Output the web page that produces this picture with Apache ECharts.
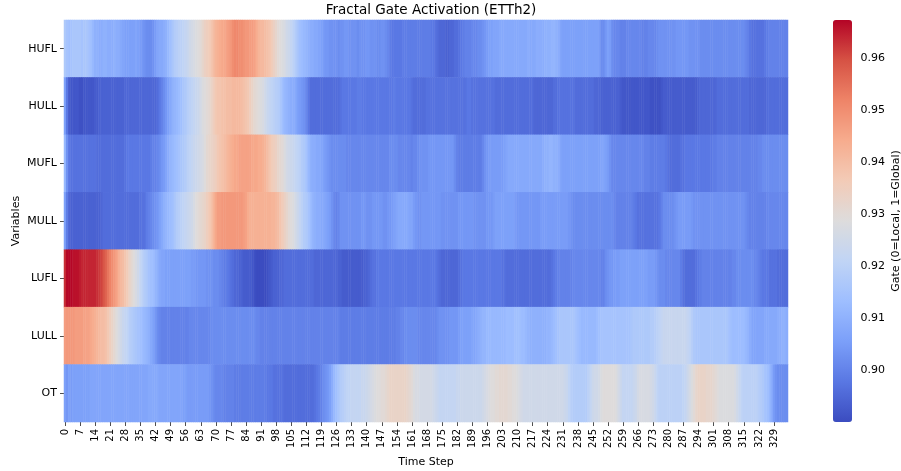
<!DOCTYPE html>
<html>
<head>
<meta charset="utf-8">
<script src="https://cdn.jsdelivr.net/npm/echarts@6/dist/echarts.min.js"></script>
<style>
  html, body { margin: 0; padding: 0; background: #fff; }
  #chart { width: 901px; height: 471px; }
</style>
</head>
<body>
<div id="chart"></div>
<script>
// 变量名 (从上到下)
const variables = ['HUFL', 'HULL', 'MUFL', 'MULL', 'LUFL', 'LULL', 'OT'];
// 时间步 0..335
const timeSteps = [];
for (let i = 0; i < 336; i++) timeSteps.push(String(i));
// 颜色条刻度
const colorbarTicks = [0.90, 0.91, 0.92, 0.93, 0.94, 0.95, 0.96];
const gateMin = 0.8901;
const gateMax = 0.9673;

const hufl = [
  0.917, 0.915, 0.914, 0.915, 0.916, 0.916, 0.916, 0.916, 0.915, 0.916, 0.916, 0.915,
  0.914, 0.912, 0.910, 0.910, 0.909, 0.909, 0.910, 0.910, 0.909, 0.909, 0.909, 0.910,
  0.909, 0.909, 0.908, 0.907, 0.906, 0.906, 0.906, 0.906, 0.906, 0.907, 0.906, 0.905,
  0.904, 0.903, 0.902, 0.902, 0.902, 0.903, 0.905, 0.907, 0.908, 0.908, 0.909, 0.910,
  0.912, 0.914, 0.916, 0.918, 0.919, 0.920, 0.920, 0.921, 0.922, 0.923, 0.925, 0.926,
  0.927, 0.928, 0.929, 0.930, 0.932, 0.934, 0.935, 0.936, 0.938, 0.940, 0.942, 0.943,
  0.944, 0.945, 0.945, 0.946, 0.947, 0.948, 0.950, 0.951, 0.951, 0.950, 0.950, 0.949,
  0.948, 0.948, 0.947, 0.947, 0.946, 0.944, 0.942, 0.941, 0.941, 0.940, 0.939, 0.938,
  0.936, 0.934, 0.932, 0.930, 0.929, 0.928, 0.927, 0.925, 0.924, 0.922, 0.920, 0.918,
  0.916, 0.914, 0.913, 0.912, 0.911, 0.910, 0.909, 0.909, 0.908, 0.908, 0.907, 0.906,
  0.905, 0.904, 0.904, 0.903, 0.903, 0.903, 0.903, 0.902, 0.903, 0.903, 0.904, 0.904,
  0.903, 0.903, 0.903, 0.903, 0.902, 0.903, 0.903, 0.903, 0.904, 0.904, 0.903, 0.903,
  0.903, 0.902, 0.902, 0.903, 0.903, 0.902, 0.901, 0.899, 0.898, 0.898, 0.898, 0.898,
  0.898, 0.899, 0.899, 0.899, 0.899, 0.899, 0.899, 0.899, 0.899, 0.899, 0.899, 0.899,
  0.899, 0.899, 0.898, 0.898, 0.897, 0.896, 0.895, 0.895, 0.895, 0.894, 0.894, 0.895,
  0.895, 0.896, 0.896, 0.897, 0.898, 0.899, 0.900, 0.900, 0.900, 0.901, 0.901, 0.901,
  0.902, 0.902, 0.903, 0.904, 0.905, 0.906, 0.906, 0.907, 0.907, 0.907, 0.908, 0.908,
  0.908, 0.908, 0.908, 0.908, 0.908, 0.908, 0.908, 0.908, 0.908, 0.908, 0.908, 0.909,
  0.908, 0.908, 0.908, 0.909, 0.909, 0.909, 0.909, 0.910, 0.910, 0.910, 0.911, 0.911,
  0.910, 0.909, 0.907, 0.906, 0.906, 0.906, 0.906, 0.906, 0.906, 0.906, 0.906, 0.906,
  0.906, 0.906, 0.906, 0.906, 0.906, 0.906, 0.906, 0.906, 0.905, 0.902, 0.902, 0.904,
  0.906, 0.905, 0.902, 0.901, 0.901, 0.901, 0.900, 0.900, 0.900, 0.901, 0.901, 0.901,
  0.901, 0.901, 0.901, 0.901, 0.900, 0.900, 0.900, 0.901, 0.901, 0.901, 0.901, 0.902,
  0.903, 0.903, 0.903, 0.903, 0.903, 0.903, 0.903, 0.903, 0.904, 0.904, 0.904, 0.904,
  0.904, 0.904, 0.903, 0.903, 0.903, 0.903, 0.903, 0.902, 0.902, 0.902, 0.902, 0.902,
  0.902, 0.902, 0.902, 0.902, 0.902, 0.902, 0.902, 0.902, 0.902, 0.902, 0.902, 0.902,
  0.902, 0.902, 0.902, 0.902, 0.901, 0.900, 0.898, 0.897, 0.897, 0.897, 0.897, 0.897,
  0.897, 0.898, 0.899, 0.900, 0.900, 0.900, 0.900, 0.900, 0.900, 0.900, 0.900, 0.900
];

const hull = [
  0.906, 0.898, 0.893, 0.892, 0.892, 0.892, 0.892, 0.891, 0.891, 0.892, 0.892, 0.892,
  0.892, 0.892, 0.893, 0.893, 0.894, 0.894, 0.894, 0.894, 0.894, 0.894, 0.894, 0.894,
  0.894, 0.894, 0.894, 0.894, 0.895, 0.895, 0.895, 0.895, 0.895, 0.895, 0.895, 0.895,
  0.895, 0.895, 0.895, 0.895, 0.895, 0.895, 0.895, 0.896, 0.898, 0.900, 0.902, 0.904,
  0.906, 0.908, 0.910, 0.911, 0.912, 0.913, 0.914, 0.916, 0.917, 0.919, 0.920, 0.921,
  0.922, 0.923, 0.924, 0.926, 0.928, 0.929, 0.930, 0.931, 0.933, 0.935, 0.937, 0.938,
  0.938, 0.939, 0.939, 0.940, 0.940, 0.940, 0.941, 0.941, 0.941, 0.941, 0.940, 0.939,
  0.938, 0.937, 0.935, 0.933, 0.931, 0.930, 0.929, 0.928, 0.927, 0.925, 0.923, 0.922,
  0.921, 0.920, 0.919, 0.918, 0.916, 0.914, 0.912, 0.911, 0.910, 0.909, 0.909, 0.908,
  0.906, 0.905, 0.904, 0.903, 0.901, 0.898, 0.896, 0.896, 0.896, 0.896, 0.896, 0.896,
  0.896, 0.896, 0.896, 0.896, 0.896, 0.896, 0.896, 0.896, 0.897, 0.898, 0.898, 0.898,
  0.898, 0.898, 0.898, 0.898, 0.899, 0.899, 0.898, 0.898, 0.898, 0.898, 0.898, 0.898,
  0.898, 0.898, 0.898, 0.898, 0.898, 0.898, 0.898, 0.898, 0.898, 0.899, 0.898, 0.898,
  0.898, 0.898, 0.898, 0.898, 0.898, 0.897, 0.896, 0.896, 0.896, 0.896, 0.896, 0.896,
  0.897, 0.897, 0.897, 0.897, 0.897, 0.897, 0.897, 0.897, 0.897, 0.897, 0.897, 0.897,
  0.897, 0.897, 0.897, 0.897, 0.897, 0.897, 0.897, 0.898, 0.898, 0.897, 0.897, 0.897,
  0.897, 0.897, 0.897, 0.897, 0.897, 0.897, 0.897, 0.897, 0.896, 0.896, 0.896, 0.896,
  0.896, 0.896, 0.896, 0.896, 0.896, 0.896, 0.896, 0.896, 0.896, 0.896, 0.896, 0.896,
  0.896, 0.896, 0.895, 0.895, 0.895, 0.895, 0.895, 0.895, 0.895, 0.895, 0.895, 0.896,
  0.896, 0.897, 0.897, 0.897, 0.897, 0.897, 0.897, 0.897, 0.897, 0.896, 0.896, 0.896,
  0.896, 0.896, 0.896, 0.896, 0.896, 0.896, 0.895, 0.895, 0.895, 0.894, 0.894, 0.894,
  0.894, 0.894, 0.894, 0.894, 0.894, 0.894, 0.893, 0.892, 0.892, 0.892, 0.892, 0.892,
  0.892, 0.892, 0.892, 0.892, 0.892, 0.892, 0.892, 0.892, 0.891, 0.891, 0.891, 0.891,
  0.891, 0.892, 0.893, 0.893, 0.893, 0.893, 0.893, 0.893, 0.893, 0.893, 0.893, 0.893,
  0.893, 0.893, 0.893, 0.893, 0.893, 0.893, 0.894, 0.895, 0.895, 0.895, 0.895, 0.895,
  0.895, 0.895, 0.895, 0.896, 0.896, 0.896, 0.896, 0.896, 0.896, 0.896, 0.896, 0.896,
  0.896, 0.896, 0.896, 0.896, 0.896, 0.896, 0.895, 0.895, 0.895, 0.895, 0.895, 0.895,
  0.895, 0.895, 0.896, 0.896, 0.896, 0.896, 0.896, 0.896, 0.896, 0.896, 0.896, 0.896
];

const mufl = [
  0.912, 0.903, 0.898, 0.897, 0.897, 0.897, 0.897, 0.897, 0.897, 0.897, 0.897, 0.897,
  0.897, 0.897, 0.897, 0.896, 0.896, 0.896, 0.896, 0.896, 0.896, 0.896, 0.896, 0.896,
  0.896, 0.896, 0.896, 0.896, 0.897, 0.898, 0.898, 0.898, 0.898, 0.898, 0.898, 0.898,
  0.898, 0.898, 0.898, 0.898, 0.899, 0.900, 0.900, 0.901, 0.902, 0.904, 0.905, 0.907,
  0.909, 0.911, 0.912, 0.913, 0.914, 0.915, 0.916, 0.917, 0.918, 0.920, 0.921, 0.922,
  0.923, 0.924, 0.925, 0.926, 0.927, 0.929, 0.931, 0.932, 0.933, 0.934, 0.935, 0.937,
  0.938, 0.939, 0.940, 0.941, 0.942, 0.943, 0.944, 0.945, 0.945, 0.946, 0.946, 0.946,
  0.946, 0.946, 0.946, 0.945, 0.945, 0.945, 0.944, 0.944, 0.943, 0.942, 0.940, 0.938,
  0.936, 0.935, 0.934, 0.932, 0.931, 0.930, 0.928, 0.926, 0.925, 0.924, 0.923, 0.922,
  0.921, 0.920, 0.918, 0.917, 0.915, 0.912, 0.910, 0.909, 0.909, 0.908, 0.908, 0.907,
  0.906, 0.905, 0.904, 0.903, 0.902, 0.902, 0.902, 0.902, 0.902, 0.902, 0.902, 0.901,
  0.901, 0.901, 0.901, 0.901, 0.901, 0.901, 0.901, 0.901, 0.901, 0.901, 0.901, 0.901,
  0.901, 0.901, 0.901, 0.901, 0.901, 0.901, 0.901, 0.902, 0.902, 0.902, 0.902, 0.901,
  0.901, 0.901, 0.901, 0.901, 0.901, 0.900, 0.901, 0.901, 0.902, 0.903, 0.903, 0.903,
  0.903, 0.904, 0.904, 0.904, 0.904, 0.904, 0.904, 0.904, 0.904, 0.904, 0.904, 0.904,
  0.904, 0.902, 0.900, 0.899, 0.899, 0.899, 0.899, 0.899, 0.899, 0.899, 0.899, 0.899,
  0.899, 0.899, 0.901, 0.903, 0.904, 0.905, 0.905, 0.905, 0.905, 0.905, 0.905, 0.905,
  0.906, 0.907, 0.908, 0.908, 0.908, 0.908, 0.908, 0.908, 0.908, 0.908, 0.908, 0.908,
  0.908, 0.908, 0.908, 0.908, 0.908, 0.908, 0.909, 0.910, 0.910, 0.911, 0.911, 0.910,
  0.910, 0.909, 0.907, 0.906, 0.906, 0.906, 0.906, 0.906, 0.906, 0.906, 0.906, 0.906,
  0.906, 0.906, 0.906, 0.906, 0.906, 0.906, 0.906, 0.906, 0.906, 0.907, 0.907, 0.906,
  0.905, 0.903, 0.901, 0.901, 0.901, 0.901, 0.901, 0.901, 0.901, 0.901, 0.901, 0.901,
  0.901, 0.901, 0.901, 0.901, 0.901, 0.900, 0.900, 0.900, 0.899, 0.899, 0.899, 0.899,
  0.899, 0.899, 0.899, 0.898, 0.897, 0.896, 0.896, 0.896, 0.896, 0.896, 0.897, 0.897,
  0.898, 0.898, 0.898, 0.898, 0.898, 0.898, 0.898, 0.898, 0.898, 0.898, 0.898, 0.898,
  0.898, 0.899, 0.899, 0.900, 0.900, 0.900, 0.900, 0.900, 0.900, 0.900, 0.900, 0.900,
  0.900, 0.900, 0.900, 0.900, 0.900, 0.900, 0.900, 0.900, 0.900, 0.900, 0.901, 0.901,
  0.902, 0.902, 0.902, 0.902, 0.902, 0.902, 0.902, 0.902, 0.902, 0.902, 0.902, 0.902
];

const mull = [
  0.906, 0.899, 0.895, 0.894, 0.894, 0.894, 0.894, 0.894, 0.894, 0.894, 0.894, 0.894,
  0.894, 0.894, 0.894, 0.894, 0.894, 0.895, 0.896, 0.896, 0.896, 0.896, 0.896, 0.896,
  0.896, 0.896, 0.896, 0.896, 0.896, 0.896, 0.896, 0.896, 0.896, 0.896, 0.896, 0.897,
  0.897, 0.897, 0.899, 0.900, 0.901, 0.902, 0.903, 0.904, 0.906, 0.908, 0.910, 0.911,
  0.912, 0.913, 0.914, 0.916, 0.918, 0.919, 0.920, 0.921, 0.922, 0.923, 0.924, 0.925,
  0.927, 0.929, 0.930, 0.931, 0.932, 0.933, 0.935, 0.937, 0.939, 0.942, 0.945, 0.947,
  0.947, 0.948, 0.948, 0.948, 0.948, 0.948, 0.948, 0.948, 0.948, 0.948, 0.948, 0.947,
  0.946, 0.944, 0.943, 0.943, 0.943, 0.943, 0.943, 0.943, 0.943, 0.943, 0.943, 0.943,
  0.942, 0.942, 0.941, 0.940, 0.938, 0.936, 0.934, 0.932, 0.930, 0.929, 0.928, 0.926,
  0.924, 0.922, 0.920, 0.918, 0.917, 0.915, 0.913, 0.911, 0.910, 0.909, 0.909, 0.908,
  0.908, 0.907, 0.906, 0.905, 0.903, 0.901, 0.900, 0.901, 0.903, 0.903, 0.903, 0.903,
  0.903, 0.903, 0.903, 0.903, 0.903, 0.903, 0.904, 0.904, 0.903, 0.903, 0.903, 0.904,
  0.904, 0.904, 0.904, 0.904, 0.903, 0.903, 0.904, 0.904, 0.905, 0.906, 0.907, 0.908,
  0.908, 0.908, 0.908, 0.908, 0.907, 0.907, 0.905, 0.904, 0.903, 0.903, 0.904, 0.904,
  0.904, 0.904, 0.904, 0.904, 0.904, 0.904, 0.904, 0.903, 0.903, 0.903, 0.903, 0.903,
  0.903, 0.903, 0.903, 0.904, 0.904, 0.904, 0.904, 0.904, 0.904, 0.904, 0.903, 0.903,
  0.903, 0.903, 0.903, 0.903, 0.904, 0.904, 0.904, 0.905, 0.906, 0.906, 0.906, 0.906,
  0.906, 0.906, 0.906, 0.906, 0.906, 0.905, 0.904, 0.904, 0.904, 0.904, 0.904, 0.904,
  0.904, 0.904, 0.904, 0.904, 0.904, 0.905, 0.905, 0.905, 0.905, 0.905, 0.905, 0.905,
  0.905, 0.905, 0.905, 0.905, 0.905, 0.905, 0.904, 0.903, 0.902, 0.902, 0.902, 0.902,
  0.902, 0.902, 0.902, 0.902, 0.902, 0.902, 0.902, 0.902, 0.902, 0.902, 0.902, 0.902,
  0.902, 0.902, 0.902, 0.901, 0.900, 0.900, 0.900, 0.900, 0.900, 0.900, 0.900, 0.900,
  0.899, 0.898, 0.897, 0.897, 0.897, 0.897, 0.897, 0.897, 0.897, 0.897, 0.897, 0.897,
  0.898, 0.900, 0.902, 0.902, 0.902, 0.902, 0.902, 0.903, 0.904, 0.905, 0.905, 0.905,
  0.905, 0.905, 0.905, 0.904, 0.903, 0.903, 0.903, 0.903, 0.903, 0.903, 0.903, 0.903,
  0.903, 0.903, 0.903, 0.903, 0.903, 0.903, 0.903, 0.903, 0.903, 0.903, 0.903, 0.903,
  0.903, 0.903, 0.903, 0.903, 0.902, 0.901, 0.900, 0.900, 0.900, 0.900, 0.900, 0.900,
  0.900, 0.900, 0.901, 0.901, 0.901, 0.901, 0.901, 0.901, 0.901, 0.901, 0.901, 0.901
];

const lufl = [
  0.963, 0.967, 0.967, 0.967, 0.966, 0.966, 0.966, 0.965, 0.964, 0.964, 0.964, 0.964,
  0.964, 0.964, 0.964, 0.963, 0.962, 0.961, 0.959, 0.957, 0.954, 0.952, 0.950, 0.948,
  0.946, 0.943, 0.941, 0.940, 0.938, 0.936, 0.933, 0.931, 0.929, 0.927, 0.925, 0.922,
  0.920, 0.918, 0.917, 0.915, 0.914, 0.913, 0.911, 0.910, 0.908, 0.907, 0.907, 0.906,
  0.906, 0.906, 0.906, 0.906, 0.906, 0.906, 0.906, 0.906, 0.906, 0.906, 0.906, 0.905,
  0.905, 0.904, 0.904, 0.904, 0.904, 0.904, 0.903, 0.903, 0.903, 0.902, 0.902, 0.902,
  0.901, 0.900, 0.899, 0.899, 0.898, 0.897, 0.896, 0.895, 0.895, 0.894, 0.894, 0.893,
  0.893, 0.893, 0.893, 0.892, 0.891, 0.890, 0.890, 0.890, 0.890, 0.890, 0.891, 0.892,
  0.893, 0.894, 0.894, 0.894, 0.895, 0.895, 0.896, 0.896, 0.896, 0.896, 0.896, 0.896,
  0.896, 0.896, 0.896, 0.896, 0.896, 0.896, 0.896, 0.896, 0.895, 0.895, 0.895, 0.895,
  0.895, 0.895, 0.895, 0.895, 0.895, 0.895, 0.895, 0.894, 0.894, 0.893, 0.893, 0.893,
  0.893, 0.893, 0.893, 0.893, 0.893, 0.893, 0.893, 0.894, 0.894, 0.895, 0.896, 0.897,
  0.897, 0.898, 0.898, 0.898, 0.898, 0.898, 0.898, 0.898, 0.898, 0.898, 0.898, 0.898,
  0.898, 0.898, 0.898, 0.898, 0.898, 0.898, 0.898, 0.898, 0.898, 0.898, 0.898, 0.898,
  0.898, 0.898, 0.898, 0.898, 0.898, 0.897, 0.896, 0.895, 0.895, 0.895, 0.895, 0.895,
  0.895, 0.895, 0.895, 0.896, 0.897, 0.898, 0.898, 0.898, 0.898, 0.898, 0.898, 0.898,
  0.898, 0.898, 0.898, 0.898, 0.898, 0.898, 0.898, 0.898, 0.898, 0.898, 0.898, 0.897,
  0.897, 0.896, 0.896, 0.896, 0.896, 0.896, 0.896, 0.896, 0.896, 0.896, 0.896, 0.896,
  0.896, 0.896, 0.896, 0.896, 0.896, 0.896, 0.896, 0.896, 0.896, 0.896, 0.897, 0.898,
  0.899, 0.900, 0.900, 0.900, 0.900, 0.900, 0.900, 0.900, 0.901, 0.901, 0.901, 0.901,
  0.901, 0.901, 0.901, 0.901, 0.901, 0.901, 0.901, 0.901, 0.901, 0.900, 0.900, 0.902,
  0.903, 0.904, 0.904, 0.905, 0.905, 0.905, 0.906, 0.906, 0.906, 0.906, 0.906, 0.906,
  0.906, 0.906, 0.906, 0.906, 0.906, 0.906, 0.906, 0.905, 0.905, 0.905, 0.904, 0.903,
  0.902, 0.902, 0.902, 0.901, 0.901, 0.901, 0.901, 0.901, 0.901, 0.901, 0.899, 0.897,
  0.896, 0.896, 0.896, 0.896, 0.896, 0.897, 0.898, 0.899, 0.900, 0.900, 0.900, 0.900,
  0.900, 0.900, 0.900, 0.900, 0.900, 0.900, 0.900, 0.900, 0.900, 0.900, 0.901, 0.901,
  0.902, 0.902, 0.902, 0.902, 0.902, 0.902, 0.902, 0.902, 0.901, 0.901, 0.900, 0.899,
  0.898, 0.898, 0.898, 0.897, 0.897, 0.897, 0.897, 0.896, 0.896, 0.896, 0.896, 0.896
];

const lull = [
  0.947, 0.948, 0.948, 0.948, 0.948, 0.947, 0.947, 0.947, 0.947, 0.946, 0.946, 0.946,
  0.945, 0.944, 0.943, 0.942, 0.941, 0.940, 0.940, 0.939, 0.937, 0.935, 0.933, 0.931,
  0.929, 0.927, 0.925, 0.923, 0.922, 0.921, 0.919, 0.918, 0.917, 0.916, 0.915, 0.914,
  0.913, 0.912, 0.911, 0.910, 0.908, 0.906, 0.904, 0.902, 0.901, 0.900, 0.900, 0.900,
  0.900, 0.900, 0.900, 0.900, 0.900, 0.900, 0.900, 0.900, 0.900, 0.900, 0.901, 0.901,
  0.901, 0.901, 0.901, 0.901, 0.901, 0.901, 0.901, 0.901, 0.902, 0.902, 0.902, 0.902,
  0.902, 0.902, 0.902, 0.902, 0.902, 0.902, 0.902, 0.902, 0.902, 0.902, 0.902, 0.902,
  0.902, 0.902, 0.902, 0.902, 0.902, 0.901, 0.901, 0.900, 0.900, 0.900, 0.900, 0.900,
  0.900, 0.900, 0.900, 0.900, 0.900, 0.900, 0.900, 0.900, 0.900, 0.900, 0.900, 0.900,
  0.900, 0.900, 0.900, 0.900, 0.900, 0.900, 0.900, 0.900, 0.900, 0.900, 0.900, 0.900,
  0.900, 0.900, 0.900, 0.900, 0.900, 0.900, 0.900, 0.900, 0.899, 0.899, 0.899, 0.899,
  0.899, 0.899, 0.899, 0.899, 0.899, 0.899, 0.899, 0.899, 0.899, 0.899, 0.899, 0.899,
  0.899, 0.899, 0.899, 0.899, 0.899, 0.899, 0.899, 0.899, 0.899, 0.899, 0.900, 0.900,
  0.901, 0.901, 0.902, 0.902, 0.902, 0.902, 0.902, 0.902, 0.901, 0.901, 0.901, 0.901,
  0.901, 0.901, 0.901, 0.901, 0.901, 0.902, 0.903, 0.903, 0.903, 0.903, 0.903, 0.904,
  0.904, 0.904, 0.904, 0.905, 0.906, 0.906, 0.906, 0.906, 0.906, 0.907, 0.907, 0.908,
  0.909, 0.910, 0.911, 0.911, 0.912, 0.912, 0.912, 0.912, 0.912, 0.912, 0.912, 0.912,
  0.912, 0.913, 0.913, 0.913, 0.913, 0.914, 0.914, 0.914, 0.913, 0.913, 0.912, 0.911,
  0.910, 0.910, 0.910, 0.910, 0.910, 0.910, 0.910, 0.910, 0.911, 0.911, 0.912, 0.913,
  0.914, 0.915, 0.916, 0.916, 0.916, 0.916, 0.916, 0.916, 0.916, 0.915, 0.914, 0.913,
  0.912, 0.912, 0.912, 0.912, 0.912, 0.912, 0.912, 0.913, 0.914, 0.915, 0.915, 0.915,
  0.915, 0.915, 0.915, 0.915, 0.915, 0.915, 0.915, 0.915, 0.915, 0.915, 0.915, 0.916,
  0.917, 0.917, 0.917, 0.917, 0.917, 0.917, 0.917, 0.917, 0.918, 0.918, 0.919, 0.920,
  0.921, 0.922, 0.923, 0.923, 0.923, 0.923, 0.923, 0.923, 0.923, 0.923, 0.923, 0.923,
  0.923, 0.922, 0.921, 0.919, 0.917, 0.916, 0.916, 0.916, 0.916, 0.916, 0.916, 0.916,
  0.916, 0.916, 0.916, 0.916, 0.916, 0.916, 0.916, 0.916, 0.915, 0.914, 0.913, 0.913,
  0.913, 0.913, 0.913, 0.913, 0.912, 0.911, 0.909, 0.907, 0.907, 0.907, 0.907, 0.907,
  0.907, 0.908, 0.908, 0.908, 0.908, 0.908, 0.908, 0.909, 0.909, 0.910, 0.910, 0.909
];

const ot = [
  0.906, 0.904, 0.906, 0.905, 0.906, 0.906, 0.906, 0.906, 0.906, 0.906, 0.906, 0.906,
  0.907, 0.907, 0.907, 0.907, 0.907, 0.907, 0.907, 0.907, 0.907, 0.907, 0.907, 0.907,
  0.907, 0.907, 0.907, 0.907, 0.907, 0.907, 0.907, 0.907, 0.907, 0.907, 0.907, 0.907,
  0.907, 0.907, 0.907, 0.908, 0.908, 0.908, 0.908, 0.908, 0.907, 0.907, 0.907, 0.907,
  0.907, 0.907, 0.907, 0.907, 0.907, 0.907, 0.907, 0.906, 0.906, 0.905, 0.905, 0.905,
  0.905, 0.905, 0.905, 0.905, 0.905, 0.905, 0.905, 0.904, 0.903, 0.902, 0.901, 0.901,
  0.901, 0.901, 0.900, 0.900, 0.900, 0.900, 0.900, 0.899, 0.899, 0.899, 0.899, 0.899,
  0.899, 0.899, 0.899, 0.899, 0.899, 0.899, 0.899, 0.899, 0.899, 0.899, 0.898, 0.898,
  0.898, 0.897, 0.897, 0.897, 0.897, 0.897, 0.896, 0.896, 0.896, 0.896, 0.896, 0.896,
  0.896, 0.896, 0.896, 0.896, 0.896, 0.896, 0.896, 0.896, 0.897, 0.898, 0.899, 0.900,
  0.902, 0.903, 0.904, 0.906, 0.909, 0.912, 0.914, 0.916, 0.918, 0.919, 0.920, 0.921,
  0.921, 0.922, 0.922, 0.922, 0.922, 0.922, 0.923, 0.923, 0.924, 0.925, 0.926, 0.927,
  0.928, 0.929, 0.929, 0.930, 0.930, 0.931, 0.932, 0.933, 0.933, 0.933, 0.933, 0.933,
  0.933, 0.933, 0.933, 0.932, 0.931, 0.930, 0.928, 0.927, 0.927, 0.926, 0.926, 0.926,
  0.926, 0.926, 0.926, 0.925, 0.924, 0.923, 0.922, 0.922, 0.922, 0.922, 0.922, 0.922,
  0.922, 0.922, 0.923, 0.923, 0.924, 0.924, 0.924, 0.924, 0.924, 0.924, 0.924, 0.924,
  0.924, 0.924, 0.925, 0.926, 0.927, 0.928, 0.929, 0.929, 0.930, 0.930, 0.931, 0.931,
  0.931, 0.931, 0.930, 0.930, 0.929, 0.929, 0.928, 0.927, 0.926, 0.925, 0.925, 0.925,
  0.925, 0.925, 0.925, 0.925, 0.925, 0.925, 0.925, 0.925, 0.925, 0.925, 0.925, 0.925,
  0.925, 0.925, 0.925, 0.925, 0.924, 0.923, 0.921, 0.919, 0.918, 0.918, 0.918, 0.918,
  0.918, 0.918, 0.918, 0.920, 0.922, 0.924, 0.925, 0.925, 0.926, 0.928, 0.929, 0.929,
  0.929, 0.929, 0.929, 0.929, 0.928, 0.926, 0.924, 0.922, 0.922, 0.922, 0.922, 0.922,
  0.923, 0.924, 0.926, 0.927, 0.927, 0.927, 0.927, 0.927, 0.926, 0.925, 0.923, 0.921,
  0.920, 0.920, 0.920, 0.920, 0.920, 0.920, 0.920, 0.920, 0.920, 0.920, 0.920, 0.921,
  0.922, 0.924, 0.926, 0.928, 0.930, 0.932, 0.933, 0.933, 0.933, 0.933, 0.932, 0.932,
  0.932, 0.931, 0.930, 0.929, 0.928, 0.928, 0.928, 0.928, 0.928, 0.928, 0.928, 0.927,
  0.925, 0.923, 0.921, 0.920, 0.920, 0.920, 0.920, 0.920, 0.920, 0.920, 0.919, 0.918,
  0.917, 0.915, 0.914, 0.912, 0.909, 0.905, 0.903, 0.902, 0.902, 0.902, 0.902, 0.902
];

const rows = [hufl, hull, mufl, mull, lufl, lull, ot];

// coolwarm
const coolwarm = ['#3b4cc0', '#5977e3', '#7b9ff9', '#9ebeff', '#c0d4f5', '#dddcdc',
                  '#f2cbb7', '#f7ac8e', '#ee8468', '#d65244', '#b40426'];

let heatData = [];
rows.forEach((row, y) => {
    row.forEach((v, x) => {
        heatData.push([x, y, v]);
    });
});

const font = 'DejaVu Sans';
const chart = echarts.init(document.getElementById('chart'));
const option = {
    animation: false,
    backgroundColor: '#fff',
    title: {
        text: 'Fractal Gate Activation (ETTh2)',
        left: 426,
        top: -2,
        textAlign: 'center',
        textStyle: { fontFamily: font, fontSize: 13.5, fontWeight: 'normal', color: '#000' }
    },
    grid: [
        { left: 64, top: 20, width: 724, height: 402, outerBoundsMode: 'none' },
        { left: 833, top: 20, width: 19, height: 402, outerBoundsMode: 'none' }
    ],
    xAxis: [
        {
            type: 'category',
            gridIndex: 0,
            data: timeSteps,
            name: 'Time Step',
            nameLocation: 'middle',
            nameGap: 35,
            nameTextStyle: { fontFamily: font, fontSize: 11, color: '#000' },
            axisLine: { show: false },
            splitLine: { show: false },
            axisTick: { show: true, alignWithLabel: true, interval: 6, length: 4, lineStyle: { color: '#222', width: 0.8 } },
            axisLabel: { interval: 6, rotate: 90, fontFamily: font, fontSize: 10, color: '#000', margin: 7 }
        },
        { type: 'value', gridIndex: 1, show: false, min: 0, max: 1 }
    ],
    yAxis: [
        {
            type: 'category',
            gridIndex: 0,
            data: variables,
            inverse: true,
            name: 'Variables',
            nameLocation: 'middle',
            nameGap: 42,
            nameMoveOverlap: false,
            nameTextStyle: { fontFamily: font, fontSize: 11, color: '#000' },
            axisLine: { show: false },
            splitLine: { show: false },
            axisTick: { show: true, alignWithLabel: true, length: 4, lineStyle: { color: '#222', width: 0.8 } },
            axisLabel: { fontFamily: font, fontSize: 11, color: '#000', margin: 7 }
        },
        {
            type: 'value',
            gridIndex: 1,
            position: 'right',
            min: gateMin,
            max: gateMax,
            name: 'Gate (0=Local, 1=Global)',
            nameLocation: 'middle',
            nameRotate: 90,
            nameGap: 39,
            nameTextStyle: { fontFamily: font, fontSize: 11, color: '#000' },
            axisLine: { show: false },
            splitLine: { show: false },
            axisTick: { show: true, length: 4, customValues: colorbarTicks, lineStyle: { color: '#222', width: 0.8 } },
            axisLabel: {
                fontFamily: font, fontSize: 11, color: '#000', margin: 8.5,
                customValues: colorbarTicks,
                formatter: v => v.toFixed(2)
            }
        }
    ],
    visualMap: {
        type: 'continuous',
        min: gateMin,
        max: gateMax,
        seriesIndex: 0,
        calculable: false,
        hoverLink: false,
        left: 833,
        top: 20,
        padding: 0,
        itemWidth: 19,
        itemHeight: 402,
        text: null,
        showLabel: false,
        inRange: { color: coolwarm }
    },
    series: [{
        type: 'heatmap',
        xAxisIndex: 0,
        yAxisIndex: 0,
        data: heatData,
        progressive: 0,
        emphasis: { disabled: true },
        itemStyle: { borderWidth: 0 }
    }]
};
chart.setOption(option);
</script>
</body>
</html>
